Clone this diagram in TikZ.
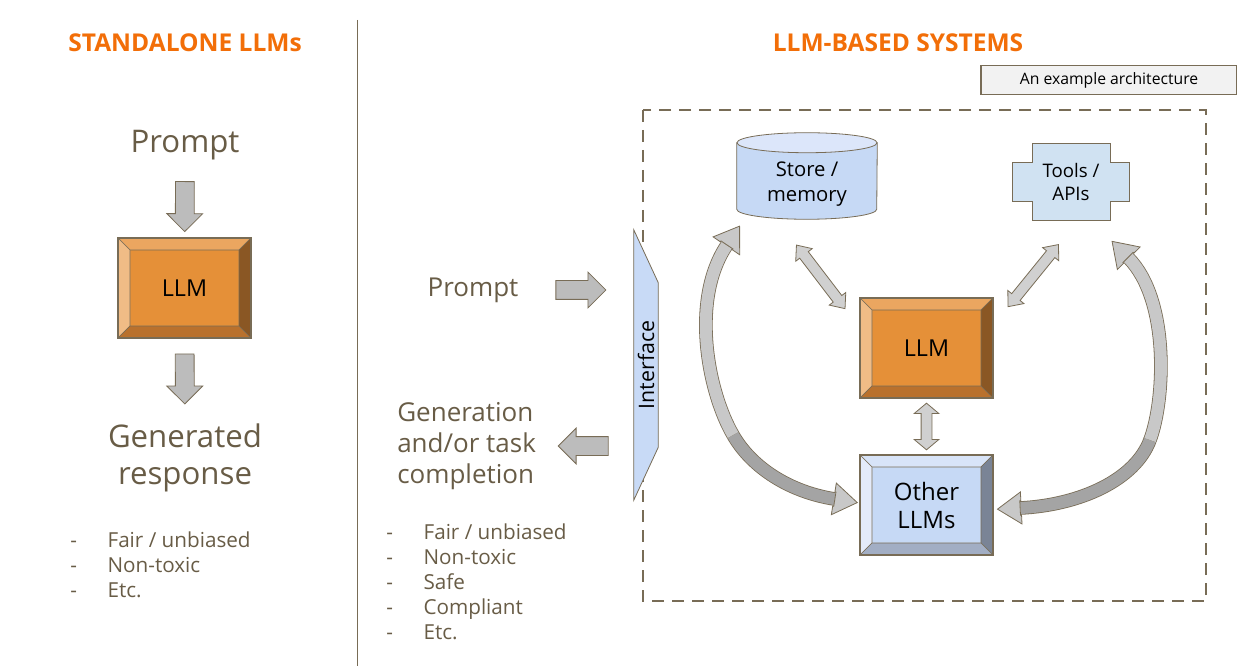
\documentclass[tikz,border=0pt]{standalone}
\usepackage{fontspec}
\setmainfont{Open Sans}
\usetikzlibrary{shapes.arrows,backgrounds,calc}

\definecolor{edge}{RGB}{120,108,86}
\definecolor{txt}{RGB}{104,92,70}
\definecolor{titleorange}{RGB}{242,110,8}
\definecolor{arrowgray}{RGB}{188,188,188}
\definecolor{lightarrow}{RGB}{208,208,208}
\definecolor{bandgray}{RGB}{200,200,200}
\definecolor{banddark}{RGB}{164,164,164}
\definecolor{exgray}{RGB}{242,242,242}
\definecolor{llmface}{RGB}{229,144,56}
\definecolor{llmtop}{RGB}{235,166,96}
\definecolor{llmleft}{RGB}{240,188,134}
\definecolor{llmright}{RGB}{138,87,36}
\definecolor{llmbottom}{RGB}{185,113,45}
\definecolor{blueface}{RGB}{198,217,245}
\definecolor{bluetop}{RGB}{216,228,248}
\definecolor{blueleft}{RGB}{228,235,250}
\definecolor{blueright}{RGB}{122,132,150}
\definecolor{bluebottom}{RGB}{162,174,196}
\definecolor{cyltop}{RGB}{220,230,250}
\definecolor{toolfill}{RGB}{208,226,242}
\definecolor{ifacefill}{RGB}{200,218,246}

\newcommand{\dashitem}[1]{\makebox[28pt][l]{-}#1}

\tikzset{
  title/.style={text=titleorange, font=\fontsize{18.4}{22}\selectfont\bfseries},
  big/.style={text=txt, font=\fontsize{23.4}{27.75}\selectfont, align=center, inner sep=0pt},
  mid/.style={text=txt, font=\fontsize{19.5}{23.25}\selectfont, align=left, inner sep=0pt},
  list/.style={text=txt, font=\fontsize{15.5}{18.75}\selectfont, align=left, inner sep=0pt, anchor=north west},
  bevelbox/.style n args={5}{draw=edge, line width=.8pt, fill=#1, minimum width=99.75pt, minimum height=75pt,
    inner sep=0pt, text=black, font=\fontsize{17.5}{21}\selectfont, align=center,
    path picture={
      \path (path picture bounding box.north west) coordinate (bv1)
            (path picture bounding box.north east) coordinate (bv2)
            (path picture bounding box.south east) coordinate (bv3)
            (path picture bounding box.south west) coordinate (bv4);
      \filldraw[fill=#2, draw=edge, line width=.5pt] (bv1) -- (bv2) -- ([shift={(-9pt,-9pt)}]bv2) -- ([shift={(9pt,-9pt)}]bv1) -- cycle;
      \filldraw[fill=#3, draw=edge, line width=.5pt] (bv1) -- ([shift={(9pt,-9pt)}]bv1) -- ([shift={(9pt,9pt)}]bv4) -- (bv4) -- cycle;
      \filldraw[fill=#4, draw=edge, line width=.5pt] (bv2) -- (bv3) -- ([shift={(-9pt,9pt)}]bv3) -- ([shift={(-9pt,-9pt)}]bv2) -- cycle;
      \filldraw[fill=#5, draw=edge, line width=.5pt] (bv4) -- ([shift={(9pt,9pt)}]bv4) -- ([shift={(-9pt,9pt)}]bv3) -- (bv3) -- cycle;
    }},
  orangebox/.style={bevelbox={llmface}{llmtop}{llmleft}{llmright}{llmbottom}},
  bluebox/.style={bevelbox={blueface}{bluetop}{blueleft}{blueright}{bluebottom}},
  sarrow/.style={single arrow, draw=edge, fill=arrowgray, line width=.6pt, inner xsep=0pt, inner ysep=6.75pt,
    sloped, allow upside down, minimum height=37.5pt, single arrow head extend=6.4pt, single arrow tip angle=90},
  darrow/.style={double arrow, draw=edge, fill=lightarrow, line width=.6pt, inner xsep=0pt, inner ysep=3.75pt,
    sloped, allow upside down},
  band/.style={draw=edge, line width=.6pt, double distance=9pt},
  bhead/.style={single arrow, draw=edge, fill=bandgray, line width=.6pt, inner xsep=0pt, inner ysep=5.1pt,
    sloped, allow upside down, anchor=tail, minimum height=17pt, single arrow head extend=6.6pt, single arrow tip angle=68},
  frame/.style={draw=edge, line width=1.7pt, dash pattern=on 9pt off 6pt},
  exbox/.style={draw=edge, line width=.8pt, fill=exgray, minimum width=192pt, minimum height=21.75pt, inner sep=0pt,
    font=\fontsize{11.8}{14}\selectfont},
  shapenode/.style={inner sep=0pt, text=black, align=center}
}

\begin{document}
\begin{tikzpicture}[x=0.75pt, y=-0.75pt]
\useasboundingbox (0,0) rectangle (1237,666);

% left half
\node[title] (tsolo) at (185,43) {STANDALONE LLMs};
\node[big] (promptsolo) at (185,145) {Prompt};
\node[orangebox] (llmsolo) at (184.5,288) {LLM};
\node[big] (response) at (185,458) {Generated\\response};
\node[list] (listsolo) at (70,532) {\dashitem{Fair / unbiased}\\\dashitem{Non-toxic}\\\dashitem{Etc.}};

\path (promptsolo) -- node[sarrow, pos=0.54] {} (llmsolo);
\path (llmsolo) -- node[sarrow, pos=0.42] {} (response);

\draw[edge, line width=1.1pt] (357.5,20) -- (357.5,666);

% right half
\node[title] (tsys) at (898,43) {LLM-BASED SYSTEMS};
\node[exbox] (example) at (1109,80) {An example architecture};
\node[mid] (prompt) at (473,290) {Prompt};
\node[mid, anchor=west] (gen) at (397,446) {Generation\\and/or task\\completion};
\node[list] (listsys) at (386,524) {\dashitem{Fair / unbiased}\\\dashitem{Non-toxic}\\\dashitem{Safe}\\\dashitem{Compliant}\\\dashitem{Etc.}};

\node[shapenode, minimum width=18pt, minimum height=202.5pt, font=\fontsize{16}{19}\selectfont] (iface) at (646,365) {\rotatebox{90}{Interface}};
\node[shapenode, minimum width=105pt, minimum height=49.5pt, font=\fontsize{15.2}{18.75}\selectfont] (store) at (807,184) {Store /\\memory};
\node[shapenode, minimum width=87pt, minimum height=57.75pt, font=\fontsize{14}{17.25}\selectfont] (tools) at (1071,182) {Tools /\\APIs};
\node[orangebox] (llm) at (926.5,348) {LLM};
\node[bluebox, font=\fontsize{18}{21}\selectfont] (others) at (926.5,505) {Other\\LLMs};

\begin{scope}[on background layer]
  \draw[frame] (643,110) rectangle (1206,601);
  \filldraw[fill=ifacefill, draw=edge, line width=.6pt] (iface.north west) -- ([yshift=-39.75pt]iface.north east)
    -- ([yshift=39.75pt]iface.south east) -- (iface.south west) -- cycle;
  \filldraw[fill=blueface, draw=edge, line width=.6pt] ([yshift=6pt]store.north west) -- ([yshift=6pt]store.south west)
    arc[start angle=180, end angle=360, x radius=52.5pt, y radius=7.5pt] -- ([yshift=6pt]store.north east) -- cycle;
  \filldraw[fill=cyltop, draw=edge, line width=.6pt] ([yshift=6pt]store.north) ellipse[x radius=52.5pt, y radius=7.5pt];
  \filldraw[fill=toolfill, draw=edge, line width=.6pt] ([xshift=14.5pt]tools.north west) -- ([xshift=-14.5pt]tools.north east)
    -- ([shift={(-14.5pt,-14.5pt)}]tools.north east) -- ([yshift=-14.5pt]tools.north east)
    -- ([yshift=14.5pt]tools.south east) -- ([shift={(-14.5pt,14.5pt)}]tools.south east)
    -- ([xshift=-14.5pt]tools.south east) -- ([xshift=14.5pt]tools.south west)
    -- ([shift={(14.5pt,14.5pt)}]tools.south west) -- ([yshift=14.5pt]tools.south west)
    -- ([yshift=-14.5pt]tools.north west) -- ([shift={(14.5pt,-14.5pt)}]tools.north west) -- cycle;
\end{scope}

\path (prompt) -- node[sarrow, pos=0.5] {} (prompt -| iface.west);
\path (gen -| iface.west) -- node[sarrow, pos=0.47] {} (gen);

\path ([shift={(-11.25pt,-16.5pt)}]store.south) -- node[darrow, minimum height=60pt,
  double arrow head extend=3.75pt, double arrow tip angle=80] {} ([shift={(-7.5pt,-12.75pt)}]llm.north west);
\path ([shift={(-5.25pt,-12.75pt)}]tools.south) -- node[darrow, minimum height=60pt,
  double arrow head extend=3.75pt, double arrow tip angle=80] {} ([shift={(6.75pt,-12pt)}]llm.north east);
\path (llm) -- node[darrow, minimum height=35pt,
  double arrow head extend=5.25pt, double arrow tip angle=100] {} (others);

% curved feedback arrows
\coordinate (lbend) at (733,435);
\coordinate (rbend) at (1150,440);
\draw[band, double=banddark] (lbend) .. controls (752,468) and (790,492) .. ([shift={(-18.75pt,4.5pt)}]others.west) node[bhead, pos=1] {};
\draw[band, double=bandgray] (lbend) .. controls (708,392) and (690,300) .. ([shift={(-7.5pt,-21pt)}]store.south west) node[bhead, pos=1] {};
\draw[band, double=banddark] (rbend) .. controls (1135,480) and (1080,505) .. ([shift={(20.25pt,-2.25pt)}]others.east) node[bhead, pos=1] {};
\draw[band, double=bandgray] (rbend) .. controls (1165,400) and (1170,300) .. ([shift={(-0.75pt,-27.75pt)}]tools.south east) node[bhead, pos=1] {};
\end{tikzpicture}
\end{document}
